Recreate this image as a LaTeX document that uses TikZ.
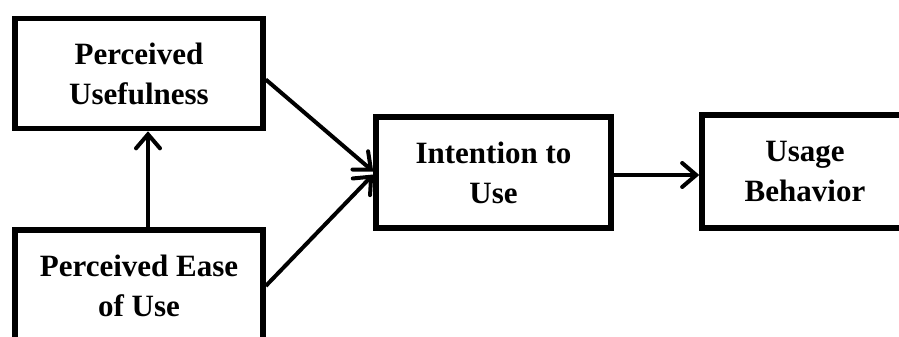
\documentclass[tikz,border=0pt]{standalone}
\usepackage{fontspec}
\setmainfont{Liberation Serif}
\usetikzlibrary{arrows.meta}
\begin{document}
\begin{tikzpicture}[x=1pt,y=1pt,
  box/.style={draw=black, line width=5.5pt, fill=white, inner sep=0pt,
    align=center, font=\bfseries\fontsize{31}{40}\selectfont},
  conn/.style={line width=4pt, -{Straight Barb[length=14pt,width=24pt,line cap=round]}}]
\useasboundingbox (0,0) rectangle (899,-337);
\clip (0,0) rectangle (899,-337);
\fill[white] (0,0) rectangle (899,-337);
\node[box, minimum width=248pt, minimum height=110pt] (pu) at (139,-73.5) {Perceived\\Usefulness};
\node[box, minimum width=248pt, minimum height=112pt] (peou) at (139,-286) {Perceived Ease\\of Use};
\node[box, minimum width=235pt, minimum height=111pt] (itu) at (493.5,-172.5) {Intention to\\Use};
\node[box, minimum width=206pt, minimum height=113pt] (ub) at (805,-171.5) {Usage\\Behavior};
\draw[conn] ([yshift=-6pt]pu.east) -- ([yshift=1pt]itu.west);
\draw[conn] (peou.east) -- ([yshift=-2pt]itu.west);
\draw[conn] ([yshift=-2.5pt]itu.east) -- ([yshift=-3.5pt]ub.west);
\draw[conn] ([xshift=9pt]peou.north) -- ([xshift=9pt]pu.south);
\end{tikzpicture}
\end{document}
